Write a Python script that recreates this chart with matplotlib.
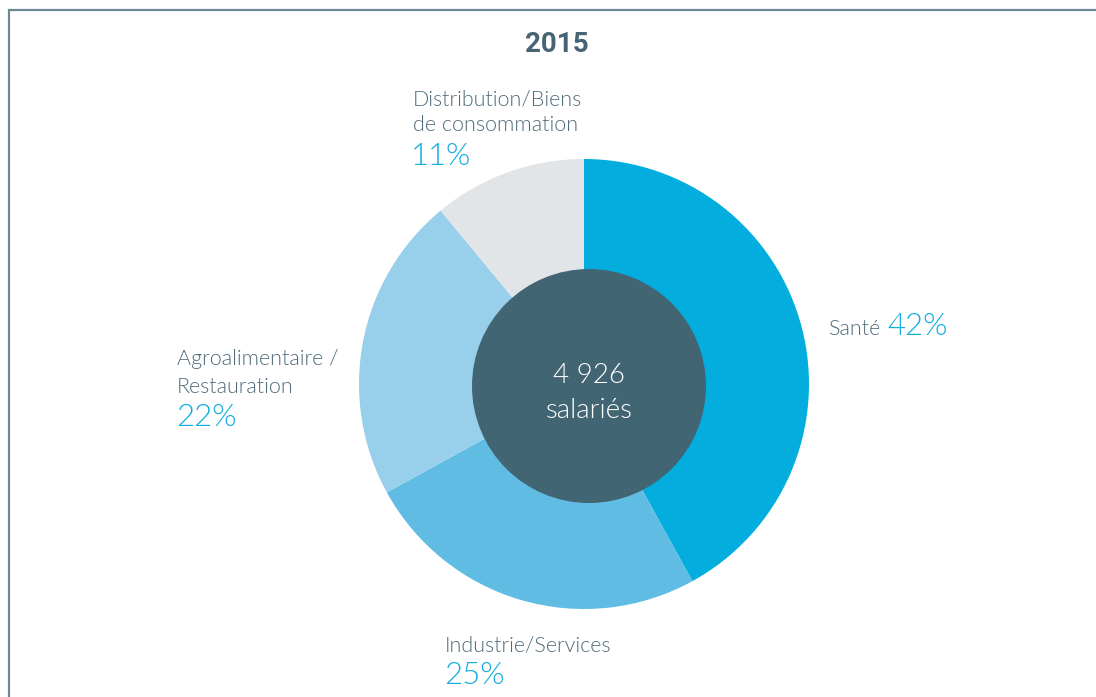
import matplotlib
matplotlib.use("Agg")
import matplotlib.pyplot as plt
from matplotlib.patches import Circle

# data
sectors = ["Santé", "Industrie/Services", "Agroalimentaire /\nRestauration",
           "Distribution/Biens\nde consommation"]
shares = [42, 25, 22, 11]
colors = ["#03AEDF", "#60BCE3", "#98CFEB", "#E1E5E8"]
total_label = "4 926\nsalariés"
year = "2015"

label_col = "#4E6B79"
pct_col = "#14ADDF"

fig = plt.figure(figsize=(10.96, 6.97), dpi=100)
ax = fig.add_axes([0, 0, 1, 1])

# pixel coordinates, y going down; pie goes clockwise from the top
ax.pie(shares, colors=colors, startangle=270, counterclock=True,
       radius=225, center=(584, 384), frame=True,
       wedgeprops=dict(linewidth=0))
ax.add_patch(Circle((589, 386), 117, color="#426574", lw=0))

ax.set_xlim(0, 1096)
ax.set_ylim(697, 0)
ax.set_aspect("equal")
ax.axis("off")

# frame lines (left and top)
ax.plot([9, 9, 1096], [697, 9.5, 9.5], color="#6E8693", lw=1.6,
        solid_joinstyle="miter")

ax.text(557, 52, year, ha="center", va="baseline", fontsize=20,
        fontweight="bold", color="#466473", family="Roboto")

lab = dict(va="baseline", color=label_col, fontsize=15.5, fontweight=300,
           family="Lato")
pct = dict(va="baseline", color=pct_col, fontsize=22.5, fontweight=300,
           family="Lato")

# Distribution
d1, d2 = sectors[3].split("\n")
ax.text(413, 105, d1, **lab)
ax.text(413, 131, d2, **lab)
ax.text(411, 165, f"{shares[3]}%", **pct)

# Santé
ax.text(828, 335, sectors[0], **lab)
ax.text(887, 335, f"{shares[0]}%", **pct)

# Agroalimentaire
a1, a2 = sectors[2].split("\n")
ax.text(177, 365, a1, **lab)
ax.text(177, 393, a2, **lab)
ax.text(176, 426, f"{shares[2]}%", **pct)

# Industrie
ax.text(445, 651, sectors[1], **lab)
ax.text(444, 684, f"{shares[1]}%", **pct)

# centre
c1, c2 = total_label.split("\n")
ax.text(589, 383, c1, ha="center", va="baseline", color="white",
        fontsize=20, fontweight=300, family="Lato")
ax.text(589, 418, c2, ha="center", va="baseline", color="white",
        fontsize=20, fontweight=300, family="Lato")

fig.savefig("out.png", dpi=100, facecolor="white")
